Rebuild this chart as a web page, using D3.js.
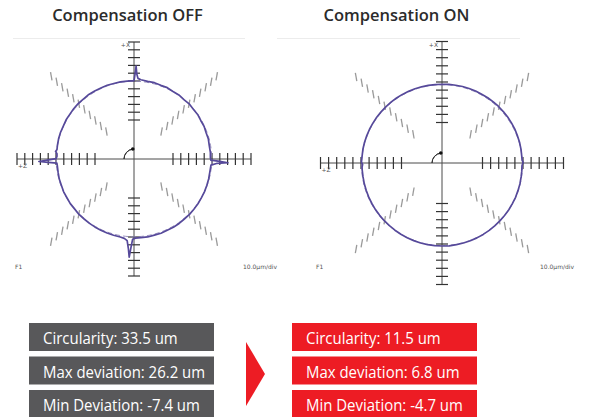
<!DOCTYPE html>
<html><head><meta charset="utf-8">
<script src="https://cdn.jsdelivr.net/npm/d3@7"></script>
<style>html,body{margin:0;padding:0;background:#fff;} svg{display:block;}</style>
</head><body>
<svg id="c" width="602" height="417"></svg>
<script>
const panelTitles = ["Compensation OFF", "Compensation ON"];
const axisLabels = ["+X", "+Z", "F1", "10.0µm/div"];
const tickDivs = [5,6,7,8,9,10,11,12,13,14,15];
const axisAngles = [0, 90, 180, 270];
const diagAngles = [45, 135, 225, 315];
// best-fit reference circles [dx, dy, radius] in divisions
const offFit = [0, 0, 9.97];
const onFit = [0, 0.26, 9.93];
// [angle clockwise from +X (top), radius in divisions]
const offTrace = [[0,10.05],[0.8,11.0],[1.3,11.9],[1.9,10.9],[2.8,10.35],[5,10.2],[10,10.1],[15,10.13],[20,10.05],[25,10.09],[30,10.0],[35,10.03],[40,9.95],[45,10.0],[50,9.93],[55,9.96],[60,9.88],[65,9.91],[70,9.84],[75,9.87],[80,9.8],[85,9.83],[89,9.8],[90.8,9.85],[91.6,11.0],[92.3,12.05],[93.1,10.6],[94.5,9.9],[98,9.87],[105,9.91],[110,9.93],[115,9.96],[120,9.97],[125,10.01],[130,10.02],[135,10.06],[140,10.04],[145,10.09],[150,10.1],[155,10.08],[160,10.13],[165,10.1],[170,10.15],[175,10.12],[179,10.15],[181,10.3],[182,11.4],[182.8,12.6],[183.6,11.5],[184.8,10.5],[187,10.25],[190,10.15],[195,10.12],[200,10.1],[205,10.07],[210,10.05],[215,10.03],[220,10.0],[225,10.01],[230,9.95],[235,9.97],[240,9.93],[245,9.95],[250,9.9],[255,9.92],[260,9.88],[265,9.87],[267,9.9],[267.8,11.0],[268.5,12.2],[269.3,11.1],[270.3,10.0],[272,9.88],[274,9.9],[275.5,10.1],[277,9.95],[280,9.97],[285,10.01],[290,10.02],[295,10.0],[300,10.05],[305,10.03],[310,10.07],[315,10.08],[320,10.05],[325,10.1],[330,10.08],[335,10.05],[340,10.06],[345,10.02],[350,10.04],[355,10.02],[360,10.05]];
const onTrace = [[0,9.72],[5,9.74],[10,9.75],[15,9.78],[20,9.78],[25,9.81],[30,9.8],[35,9.84],[40,9.85],[45,9.87],[50,9.88],[55,9.9],[60,9.9],[65,9.92],[70,9.9],[75,9.91],[80,9.9],[85,9.88],[88,9.9],[89.5,10.02],[90.5,9.96],[92,9.88],[96,9.9],[100,9.92],[105,9.96],[110,9.98],[115,10.02],[120,10.03],[125,10.07],[130,10.08],[135,10.1],[140,10.12],[145,10.16],[150,10.18],[155,10.2],[160,10.22],[165,10.23],[170,10.24],[175,10.26],[180,10.25],[185,10.25],[190,10.24],[195,10.22],[200,10.2],[205,10.18],[210,10.15],[215,10.13],[220,10.1],[225,10.08],[230,10.05],[235,10.03],[240,10.0],[245,9.98],[250,9.95],[255,9.93],[260,9.9],[265,9.89],[267,9.88],[269,9.8],[270,9.9],[271,9.95],[275,9.9],[280,9.91],[285,9.9],[290,9.88],[295,9.87],[300,9.85],[305,9.84],[310,9.82],[315,9.81],[320,9.8],[325,9.79],[330,9.78],[335,9.76],[340,9.75],[345,9.74],[350,9.73],[355,9.72],[360,9.72]];
const statLabels = ["Circularity", "Max deviation", "Min Deviation"];
const offStats = [33.5, 26.2, -7.4];
const onStats = [11.5, 6.8, -4.7];
const statUnit = "um";

const svg = d3.select("#c");
svg.append("rect").attr("width",602).attr("height",417).attr("fill","#fff");

const panels = [
  {title: panelTitles[0], trace: offTrace, fit: offFit, cx: 134, cy: 159, outer: 117, titleX: 127.5, frame:[13,245]},
  {title: panelTitles[1], trace: onTrace, fit: onFit, cx: 442, cy: 163, outer: 121.5, titleX: 396.5, frame:[277,520]}
];

panels.forEach((p, pi) => {
  const r = d3.scaleLinear().domain([0, 15]).range([0, p.outer]);
  const g = svg.append("g").attr("transform", `translate(${p.cx},${p.cy})`);
  svg.append("line").attr("x1",p.frame[0]).attr("x2",p.frame[1]).attr("y1",38.5).attr("y2",38.5)
    .attr("stroke","#ececec").attr("stroke-width",1);
  svg.append("text").attr("x", p.titleX).attr("y", 21).attr("text-anchor","middle")
    .attr("font-family","'Open Sans', sans-serif").attr("font-weight",600).attr("font-size",16.5)
    .attr("fill","#2b2b2b").text(p.title);

  const pt = (a, d) => { const t = a*Math.PI/180; return [r(d)*Math.sin(t), -r(d)*Math.cos(t)]; };
  // diagonal tick rows: steep strokes leaning slightly toward the row direction
  const lean = 10*Math.PI/180;
  diagAngles.forEach(a => {
    const s = (a === 135 || a === 315) ? 1 : -1;
    const vx = s*Math.sin(lean), vy = Math.cos(lean), L = 4.2;
    tickDivs.forEach(d => {
      const [x, y] = pt(a, d);
      g.append("line").attr("x1", x - vx*L).attr("y1", y - vy*L).attr("x2", x + vx*L).attr("y2", y + vy*L)
        .attr("stroke","#9a9a9a").attr("stroke-width",1.3);
    });
  });
  // axes
  g.append("line").attr("x1", -r(15)).attr("x2", r(15)).attr("y1",0).attr("y2",0).attr("stroke","#4a4a4a").attr("stroke-width",1);
  g.append("line").attr("y1", -r(15)).attr("y2", r(15)).attr("x1",0).attr("x2",0).attr("stroke","#4a4a4a").attr("stroke-width",1);
  axisAngles.forEach(a => {
    tickDivs.forEach(d => {
      const [x, y] = pt(a, d); const t = a*Math.PI/180;
      const vx = Math.cos(t), vy = Math.sin(t), L = 6;
      g.append("line").attr("x1", x - vx*L).attr("y1", y - vy*L).attr("x2", x + vx*L).attr("y2", y + vy*L)
        .attr("stroke","#333").attr("stroke-width",1.2);
    });
  });
  // best-fit reference circle
  g.append("circle").attr("cx", r(p.fit[0])).attr("cy", r(p.fit[1])).attr("r", r(p.fit[2]))
    .attr("fill","none").attr("stroke","#8e86b8").attr("stroke-width",0.9).attr("stroke-dasharray","5,3");
  // trace
  const line = d3.lineRadial().angle(d => d[0]*Math.PI/180).radius(d => r(d[1])).curve(d3.curveLinearClosed);
  g.append("path").attr("d", line(p.trace)).attr("fill","none").attr("stroke","#56499a").attr("stroke-width",1.7)
    .attr("stroke-linejoin","round");
  // center marker
  const arc = d3.arc().innerRadius(10).outerRadius(10).startAngle(-Math.PI/2).endAngle(-0.12);
  g.append("path").attr("d", arc()).attr("fill","none").attr("stroke","#333").attr("stroke-width",1);
  g.append("circle").attr("cx", 10*Math.sin(-0.12)).attr("cy", -10*Math.cos(-0.12)).attr("r",1.8).attr("fill","#111");
  // labels
  const lbl = (x, y, t, anchor) => g.append("text").attr("x",x).attr("y",y).attr("text-anchor",anchor||"start")
    .attr("font-family","'DejaVu Sans', sans-serif").attr("font-size",6).attr("fill","#555").text(t);
  lbl(-4, -r(15)+5, axisLabels[0], "end");
  lbl(-r(15)+1, 9, axisLabels[1]);
  lbl(-p.cx + (pi===0 ? 15 : 316), 269 - p.cy, axisLabels[2]);
  lbl(-p.cx + (pi===0 ? 243 : 540), 269 - p.cy, axisLabels[3]);
});

// stats boxes
const boxes = [
  {x: 29, color: "#58585a", vals: offStats},
  {x: 292, color: "#ed1c24", vals: onStats}
];
boxes.forEach(b => {
  statLabels.forEach((lab, i) => {
    const y = 323 + i*33.5;
    svg.append("rect").attr("x", b.x).attr("y", y).attr("width", 185).attr("height", 28).attr("fill", b.color);
    svg.append("text").attr("transform", `translate(${b.x+14},${y+21.3}) scale(0.88,1)`)
      .attr("font-family","'Open Sans', sans-serif").attr("font-size",17).attr("fill","#fff")
      .text(`${lab}: ${b.vals[i]} ${statUnit}`);
  });
});
// arrow
svg.append("path").attr("d","M246,342 L265,374 L246,406 Z").attr("fill","#ed1c24");
</script>
</body></html>
